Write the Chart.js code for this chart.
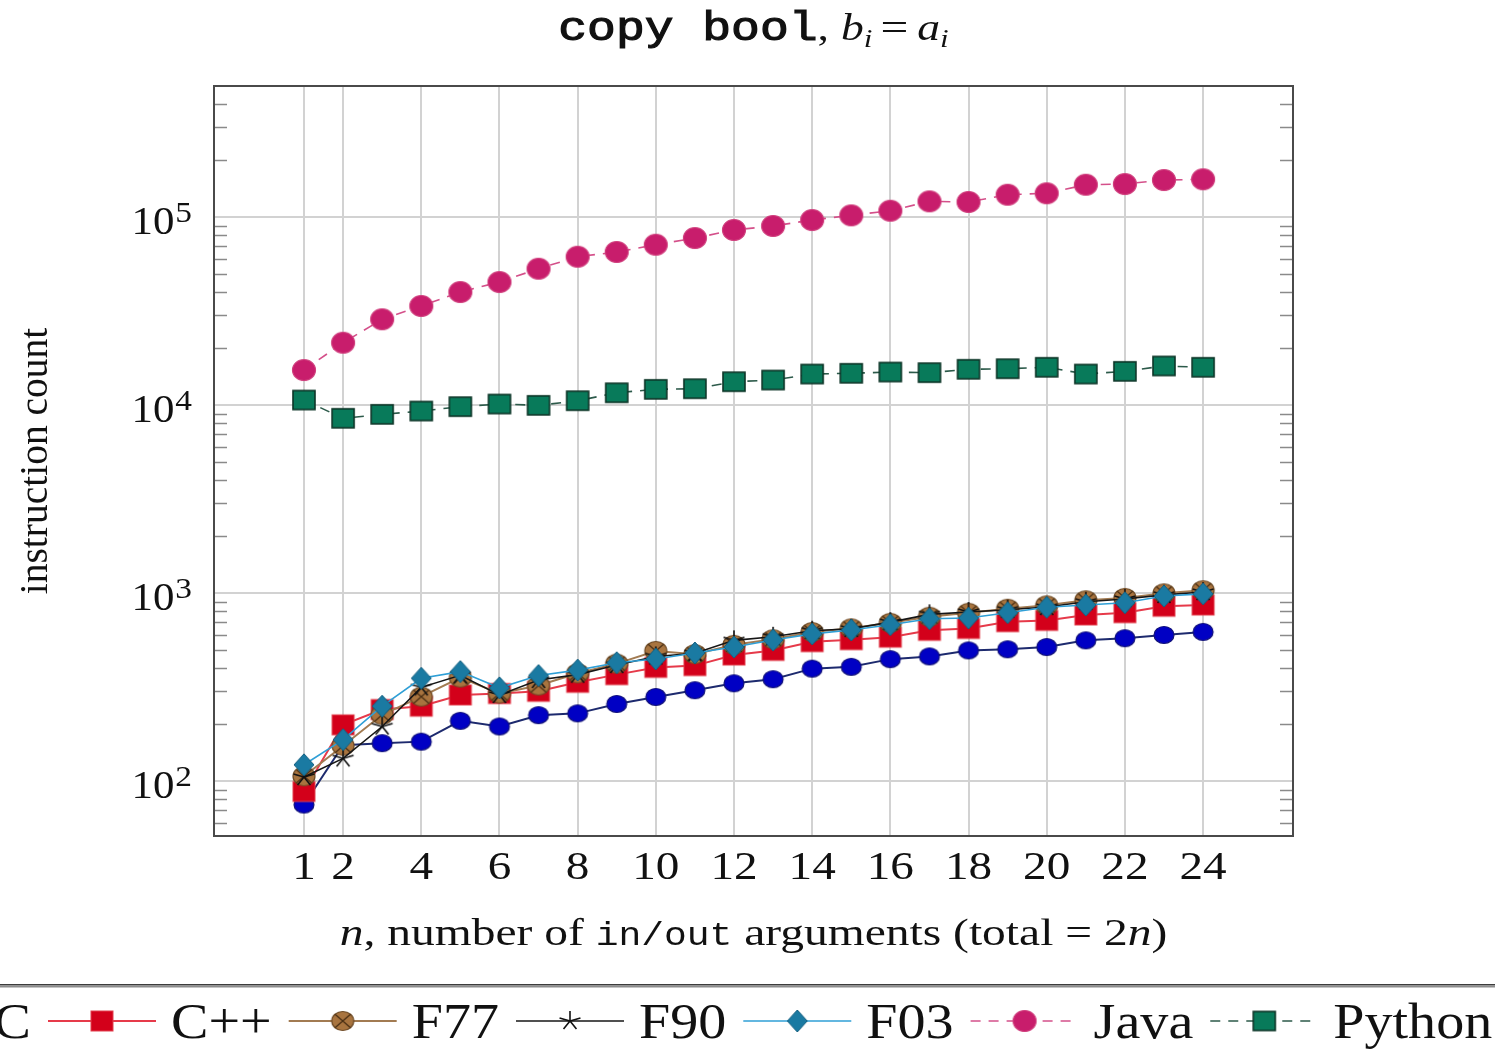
<!DOCTYPE html>
<html>
<head>
<meta charset="utf-8">
<script src="https://cdn.jsdelivr.net/npm/chart.js@4.4.1/dist/chart.umd.min.js"></script>
<style>
  html, body { margin: 0; padding: 0; background: #ffffff; }
  #wrap { width: 1495px; height: 1055px; position: relative; }
</style>
</head>
<body>
<div id="wrap"><canvas id="chart" width="1495" height="1055"></canvas></div>
<script>
// n = number of in/out arguments
const nValues = [1, 2, 3, 4, 5, 6, 7, 8, 9, 10, 11, 12, 13, 14, 15, 16, 17, 18, 19, 20, 21, 22, 23, 24];

const seriesNames = ['C', 'C++', 'F77', 'F90', 'F03', 'Java', 'Python'];

// instruction counts per language
const cCounts      = [75, 155, 159, 162, 209, 195, 224, 229, 257, 280, 304, 331, 348, 396, 405, 445, 460, 495, 502, 516, 560, 575, 598, 621];
const cppCounts    = [88, 199, 240, 250, 287, 292, 300, 335, 368, 402, 411, 468, 495, 551, 565, 582, 633, 648, 704, 715, 764, 786, 850, 863];
const f77Counts    = [106, 154, 225, 281, 355, 292, 322, 374, 421, 492, 473, 530, 568, 620, 649, 694, 748, 785, 825, 860, 915, 942, 996, 1035];
const f90Counts    = [105, 132, 195, 315, 365, 287, 345, 368, 414, 460, 478, 560, 585, 630, 645, 700, 770, 793, 815, 842, 898, 930, 978, 1012];
const f03Counts    = [122, 166, 250, 352, 382, 313, 364, 389, 426, 446, 480, 516, 562, 606, 636, 678, 730, 736, 786, 840, 863, 888, 964, 990];
const javaCounts   = [15350, 21450, 28570, 33640, 39900, 45100, 53100, 61500, 65150, 71200, 77300, 85300, 89600, 96400, 102100, 108000, 121200, 120200, 131400, 133700, 148500, 149800, 157300, 158700];
const pythonCounts = [10630, 8500, 8920, 9290, 9800, 10120, 9960, 10540, 11620, 12120, 12210, 13300, 13580, 14620, 14750, 14980, 14860, 15490, 15600, 15870, 14620, 15110, 16130, 15870];

// axis ticks
const xTickValues = [1, 2, 4, 6, 8, 10, 12, 14, 16, 18, 20, 22, 24];
const xTickLabels = ['1', '2', '4', '6', '8', '10', '12', '14', '16', '18', '20', '22', '24'];
const yTickValues = [100, 1000, 10000, 100000];
const yTickExponents = ['2', '3', '4', '5'];

const SERIF = '"Liberation Serif", "DejaVu Serif", serif';
const MONO = '"Liberation Mono", "DejaVu Sans Mono", monospace';

// ---------- marker glyphs ----------
function markerCanvas(w, h, draw) {
  const c = document.createElement('canvas');
  c.width = w; c.height = h;
  const g = c.getContext('2d');
  draw(g, w / 2, h / 2);
  return c;
}
function ellipseMarker(rx, ry, fill, stroke, cross) {
  const w = Math.ceil(rx * 2 + 4), h = Math.ceil(ry * 2 + 4);
  return markerCanvas(w + (w % 2), h + (h % 2), (g, cx, cy) => {
    g.beginPath();
    g.ellipse(cx, cy, rx, ry, 0, 0, Math.PI * 2);
    g.fillStyle = fill; g.fill();
    g.lineWidth = 1.2; g.strokeStyle = stroke; g.stroke();
    if (cross) {
      g.beginPath();
      const dx = rx * Math.SQRT1_2, dy = ry * Math.SQRT1_2;
      g.moveTo(cx - dx, cy - dy); g.lineTo(cx + dx, cy + dy);
      g.moveTo(cx - dx, cy + dy); g.lineTo(cx + dx, cy - dy);
      g.lineWidth = 1.3; g.strokeStyle = cross; g.stroke();
    }
  });
}
function rectMarker(w, h, fill, stroke, lw) {
  return markerCanvas(w + 4, h + 4, (g, cx, cy) => {
    g.fillStyle = fill;
    g.fillRect(cx - w / 2, cy - h / 2, w, h);
    g.lineWidth = lw; g.strokeStyle = stroke;
    g.strokeRect(cx - w / 2, cy - h / 2, w, h);
  });
}
function diamondMarker(hw, hh, fill, stroke) {
  return markerCanvas(hw * 2 + 4, hh * 2 + 4, (g, cx, cy) => {
    g.beginPath();
    g.moveTo(cx, cy - hh); g.lineTo(cx + hw, cy); g.lineTo(cx, cy + hh); g.lineTo(cx - hw, cy);
    g.closePath();
    g.fillStyle = fill; g.fill();
    g.lineWidth = 1; g.strokeStyle = stroke; g.stroke();
  });
}
function starMarker(rx, ry, color) {
  return markerCanvas(rx * 2 + 4, ry * 2 + 4, (g, cx, cy) => {
    g.beginPath();
    for (let k = 0; k < 5; k++) {
      const a = -Math.PI / 2 + k * 2 * Math.PI / 5;
      g.moveTo(cx, cy);
      g.lineTo(cx + rx * Math.cos(a), cy + ry * Math.sin(a));
    }
    g.lineWidth = 1.6; g.strokeStyle = color; g.stroke();
  });
}

const styles = [
  { line: '#1d2a6e', width: 2.0, dash: [], marker: ellipseMarker(10, 8.5, '#0000c4', '#12127a') },
  { line: '#e63a4a', width: 2.0, dash: [], marker: rectMarker(22, 20, '#d3001a', '#e2404e', 1) },
  { line: '#a27b52', width: 2.0, dash: [], marker: ellipseMarker(11, 9.5, '#a8743f', '#6e4b26', '#4a2f14') },
  { line: '#161616', width: 1.6, dash: [], marker: starMarker(11, 10, '#111111') },
  { line: '#2f9fd6', width: 1.6, dash: [], marker: diamondMarker(10, 11, '#1a7aa2', '#145f80') },
  { line: '#d4508a', width: 1.6, dash: [10, 8], marker: ellipseMarker(11.5, 10.5, '#c81d6c', '#d0407e') },
  { line: '#2c5a4a', width: 1.6, dash: [10, 8], marker: rectMarker(22, 19, '#087a5a', '#0d3527', 1.6) },
];

const seriesData = [cCounts, cppCounts, f77Counts, f90Counts, f03Counts, javaCounts, pythonCounts];

const datasets = seriesNames.map((name, i) => ({
  label: name,
  data: nValues.map((n, k) => ({ x: n, y: seriesData[i][k] })),
  showLine: true,
  borderColor: styles[i].line,
  borderWidth: styles[i].width,
  borderDash: styles[i].dash,
  pointStyle: styles[i].marker,
  pointRadius: 10,
  pointHoverRadius: 10,
  tension: 0,
  order: seriesNames.length - 1 - i,
}));

// ---------- text helpers ----------
// a run is {t, font, sx, dy, heavy} or {gap}
function runWidth(ctx, r) {
  if (r.gap !== undefined) return r.gap;
  ctx.font = r.font;
  return ctx.measureText(r.t).width * (r.sx || 1);
}
function drawRuns(ctx, runs, x, y, align) {
  const w = runs.reduce((s, r) => s + runWidth(ctx, r), 0);
  let cx = align === 'center' ? x - w / 2 : align === 'right' ? x - w : x;
  ctx.textAlign = 'left';
  ctx.textBaseline = 'alphabetic';
  for (const r of runs) {
    const rw = runWidth(ctx, r);
    if (r.t) {
      ctx.font = r.font;
      ctx.save();
      ctx.translate(cx, y + (r.dy || 0));
      ctx.scale(r.sx || 1, 1);
      ctx.fillText(r.t, 0, 0);
      if (r.heavy) {
        ctx.lineWidth = r.heavy;
        ctx.strokeStyle = ctx.fillStyle;
        ctx.strokeText(r.t, 0, 0);
      }
      ctx.restore();
    }
    cx += rw;
  }
  return w;
}

// ---------- decorations: frame, minor ticks, labels, title, legend ----------
const decorations = {
  id: 'decorations',
  beforeDatasetsDraw(chart) {
    const ctx = chart.ctx;
    const a = chart.chartArea;
    const ys = chart.scales.y;
    ctx.save();
    // minor ticks on the logarithmic axis, both sides, pointing inwards
    ctx.strokeStyle = '#8a8a8a';
    ctx.lineWidth = 1.4;
    for (let d = 10; d <= 1e6; d *= 10) {
      for (let m = 2; m <= 9; m++) {
        const v = m * d;
        if (v <= ys.min || v >= ys.max) continue;
        const py = Math.round(ys.getPixelForValue(v)) + 0.5;
        ctx.beginPath();
        ctx.moveTo(a.left, py); ctx.lineTo(a.left + 13, py);
        ctx.moveTo(a.right, py); ctx.lineTo(a.right - 13, py);
        ctx.stroke();
      }
    }
    // plot frame
    ctx.strokeStyle = '#4a4a4a';
    ctx.lineWidth = 2;
    ctx.strokeRect(a.left, a.top, a.right - a.left, a.bottom - a.top);
    ctx.restore();
  },
  afterDraw(chart) {
    const ctx = chart.ctx;
    const a = chart.chartArea;
    const xs = chart.scales.x, ys = chart.scales.y;
    ctx.save();
    ctx.fillStyle = '#111111';

    // y tick labels 10^k
    yTickValues.forEach((v, i) => {
      const py = ys.getPixelForValue(v);
      const right = a.left - 22;
      const ew = drawRuns(ctx, [{ t: yTickExponents[i], font: '29px ' + SERIF, sx: 1.15 }], right, py + 5, 'right');
      drawRuns(ctx, [{ t: '10', font: '39px ' + SERIF, sx: 1.1 }], right - ew - 1, py + 17, 'right');
    });

    // x tick labels
    xTickValues.forEach((v, i) => {
      const px = xs.getPixelForValue(v);
      drawRuns(ctx, [{ t: xTickLabels[i], font: '40px ' + SERIF, sx: 1.18 }], px, a.bottom + 43, 'center');
    });

    // title
    drawRuns(ctx, [
      { t: 'copy bool', font: '40px ' + MONO, sx: 1.2, heavy: 1.1 },
      { t: ',', font: '38px ' + SERIF, sx: 1.2 },
      { gap: 12 },
      { t: 'b', font: 'italic 38px ' + SERIF, sx: 1.2 },
      { t: 'i', font: 'italic 26px ' + SERIF, sx: 1.2, dy: 7 },
      { gap: 8 },
      { t: '=', font: '38px ' + SERIF, sx: 1.3 },
      { gap: 9 },
      { t: 'a', font: 'italic 38px ' + SERIF, sx: 1.2 },
      { t: 'i', font: 'italic 26px ' + SERIF, sx: 1.2, dy: 7 },
    ], (a.left + a.right) / 2, 40, 'center');

    // x axis title
    drawRuns(ctx, [
      { t: 'n', font: 'italic 38px ' + SERIF, sx: 1.25 },
      { t: ', number of ', font: '38px ' + SERIF, sx: 1.25 },
      { t: 'in/out', font: '33px ' + MONO, sx: 1.15 },
      { t: ' arguments (total = 2', font: '38px ' + SERIF, sx: 1.25 },
      { t: 'n', font: 'italic 38px ' + SERIF, sx: 1.25 },
      { t: ')', font: '38px ' + SERIF, sx: 1.25 },
    ], (a.left + a.right) / 2, 945, 'center');

    // y axis title
    ctx.save();
    ctx.translate(47, (a.top + a.bottom) / 2);
    ctx.rotate(-Math.PI / 2);
    drawRuns(ctx, [{ t: 'instruction count', font: '39.5px ' + SERIF, sx: 1.0 }], 0, 0, 'center');
    ctx.restore();

    // rule above the legend
    ctx.fillStyle = '#3c3c3c';
    ctx.fillRect(0, 984, chart.width, 1.5);
    ctx.fillStyle = '#8c8c8c';
    ctx.fillRect(0, 985.5, chart.width, 2);

    // legend row
    const lineLen = 108, gapLine = 15, gapText = 17;
    const legendRun = (t) => ({ t, font: '51px ' + SERIF, sx: 1.1 });
    const textW = seriesNames.map(s => runWidth(ctx, legendRun(s)));
    const firstEntry = lineLen + gapLine + textW[0] + gapText;
    let x = 48 - firstEntry;
    const ly = 1021;
    seriesNames.forEach((name, i) => {
      const st = styles[i];
      ctx.save();
      ctx.strokeStyle = st.line;
      ctx.lineWidth = st.width;
      ctx.setLineDash(st.dash);
      ctx.beginPath();
      ctx.moveTo(x, ly); ctx.lineTo(x + lineLen, ly);
      ctx.stroke();
      ctx.restore();
      const m = st.marker;
      ctx.drawImage(m, x + lineLen / 2 - m.width / 2, ly - m.height / 2);
      x += lineLen + gapLine;
      ctx.fillStyle = '#111111';
      drawRuns(ctx, [legendRun(name)], x, ly + 17, 'left');
      x += textW[i] + gapText;
    });

    ctx.restore();
  }
};

const chart = new Chart(document.getElementById('chart'), {
  type: 'scatter',
  data: { datasets },
  options: {
    responsive: false,
    animation: false,
    devicePixelRatio: 1,
    layout: { padding: { left: 0, top: 86, right: 202, bottom: 159 } },
    plugins: {
      legend: { display: false },
      title: { display: false },
      tooltip: { enabled: false },
    },
    scales: {
      x: {
        type: 'linear',
        min: -1.302,
        max: 26.30,
        afterBuildTicks: (s) => { s.ticks = xTickValues.map(v => ({ value: v })); },
        afterFit: (s) => { s.height = 60; },
        ticks: { display: false },
        grid: { color: '#d2d2d2', lineWidth: 2, drawTicks: false },
        border: { display: false },
      },
      y: {
        type: 'logarithmic',
        min: 51,
        max: 497600,
        afterBuildTicks: (s) => { s.ticks = yTickValues.map(v => ({ value: v })); },
        afterFit: (s) => { s.width = 214; },
        ticks: { display: false },
        grid: { color: '#d2d2d2', lineWidth: 2, drawTicks: false },
        border: { display: false },
      },
    },
  },
  plugins: [decorations],
});
</script>
</body>
</html>
